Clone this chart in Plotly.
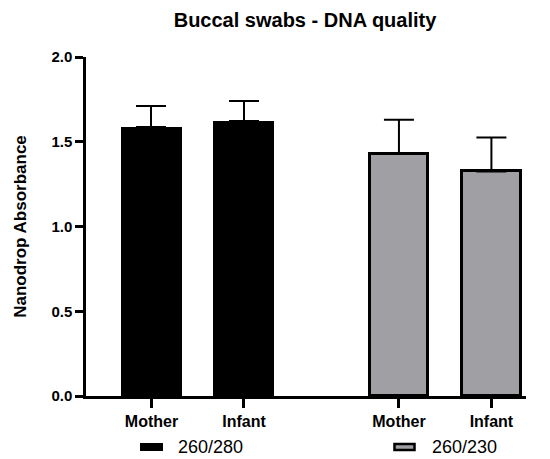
import plotly.graph_objects as go

groups = ["Mother", "Infant"]
ratio_280_values = [1.59, 1.62]
ratio_280_errors = [0.12, 0.12]
ratio_230_values = [1.43, 1.325]
ratio_230_errors = [0.20, 0.20]
series_names = ["260/280", "260/230"]
tick_labels = ["Mother", "Infant", "Mother", "Infant"]

# layout positions of the bars along the x axis
pos_280 = [1.0, 2.0]
pos_230 = [3.676, 4.676]

FONT = "Arial, Liberation Sans, sans-serif"
GRAY = "#a09fa4"

# the page body has an 8px margin, so the figure is 8px smaller and shifted
W, H = 542, 451

fig = go.Figure()
fig.add_trace(go.Bar(
    x=pos_280, y=ratio_280_values, name=series_names[0], width=0.66,
    marker=dict(color="#000000", line=dict(color="#000000", width=0)),
    error_y=dict(type="data", array=ratio_280_errors, arrayminus=[0, 0],
                 symmetric=False, color="#000000", thickness=2, width=15),
    showlegend=False,
))
fig.add_trace(go.Bar(
    x=pos_230, y=ratio_230_values, name=series_names[1], width=0.63,
    marker=dict(color=GRAY, line=dict(color="#000000", width=3)),
    error_y=dict(type="data", array=ratio_230_errors, arrayminus=[0, 0],
                 symmetric=False, color="#000000", thickness=2, width=15),
    showlegend=False,
))

# manual legend (wide rectangles like the reference)
fig.add_shape(type="rect", xref="paper", yref="paper",
              x0=0.1227, x1=0.175, y0=-0.1622, y1=-0.1386,
              fillcolor="#000000", line=dict(color="#000000", width=0))
fig.add_shape(type="rect", xref="paper", yref="paper",
              x0=0.7011, x1=0.7466, y0=-0.1593, y1=-0.1416,
              fillcolor=GRAY, line=dict(color="#000000", width=2.5))
fig.add_annotation(text=series_names[0], xref="paper", yref="paper",
                   x=0.2045, y=-0.1504, xanchor="left", yanchor="middle",
                   showarrow=False, font=dict(size=18, family=FONT, color="#000000"))
fig.add_annotation(text=series_names[1], xref="paper", yref="paper",
                   x=0.7818, y=-0.1504, xanchor="left", yanchor="middle",
                   showarrow=False, font=dict(size=18, family=FONT, color="#000000"))

fig.update_layout(
    width=W, height=H,
    margin=dict(l=78, r=24, t=49, b=63),
    paper_bgcolor="white", plot_bgcolor="white",
    font=dict(family=FONT, color="#000000"),
    title=dict(text="<b>Buccal swabs - DNA quality</b>", x=0.548, xanchor="center",
               xref="container", y=0.9745, yanchor="middle",
               font=dict(size=20, family=FONT)),
    showlegend=False,
    bargap=0,
)
fig.update_xaxes(
    range=[0.292, 5.05], tickvals=pos_280 + pos_230, ticktext=tick_labels,
    showline=True, linecolor="#000000", linewidth=2.5,
    ticks="outside", ticklen=9, tickwidth=2.5, tickcolor="#000000",
    tickfont=dict(size=16, family=FONT, weight="bold"),
    showgrid=False, zeroline=False, automargin=False,
)
fig.update_yaxes(
    range=[0, 2.0], tickvals=[0, 0.5, 1.0, 1.5, 2.0], tickformat=".1f",
    showline=True, linecolor="#000000", linewidth=2.5,
    ticks="outside", ticklen=8, tickwidth=2.5, tickcolor="#000000",
    tickfont=dict(size=15, family=FONT, weight="bold"),
    title=dict(text="<b>Nanodrop Absorbance</b>", font=dict(size=17, family=FONT), standoff=21),
    showgrid=False, zeroline=False, automargin=False,
)

fig.write_html("out.html")
